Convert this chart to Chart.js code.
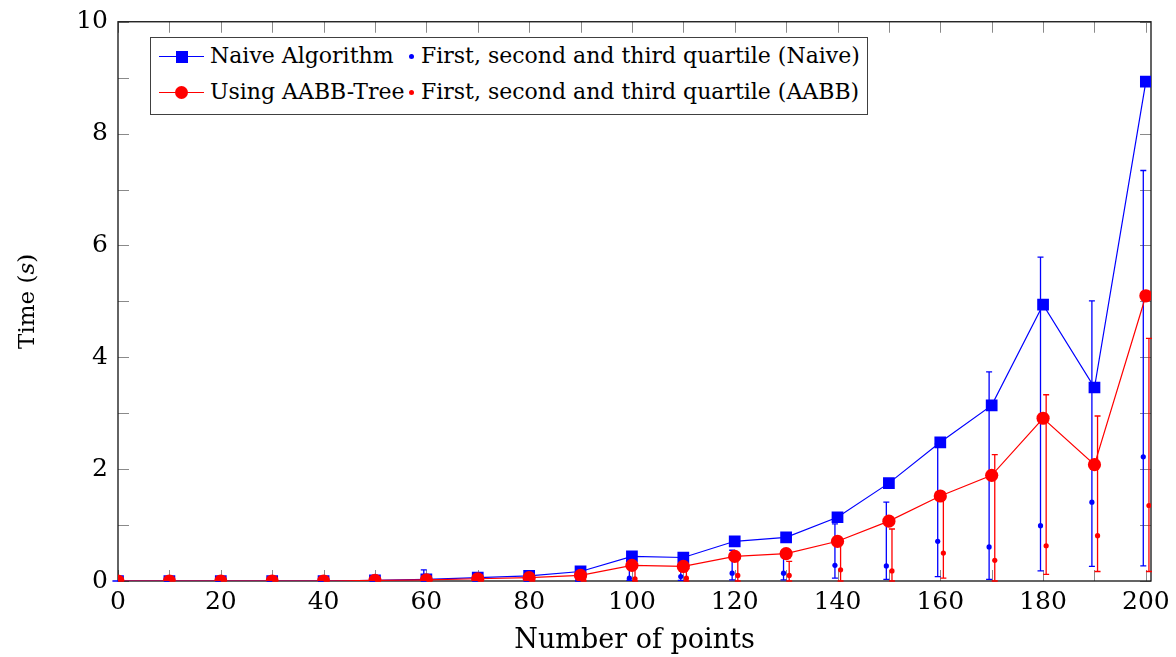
<!DOCTYPE html>
<html>
<head>
<meta charset="utf-8">
<script src="https://cdn.jsdelivr.net/npm/chart.js@4.4.0/dist/chart.umd.min.js"></script>
<style>
html,body{margin:0;padding:0;background:#fff;}
#wrap{position:relative;width:1176px;height:657px;}
#c{position:absolute;left:0;top:0;}
#legend{position:absolute;left:150px;top:37px;width:716px;height:76px;border:1px solid #404040;background:#fff;font-family:'DejaVu Serif';font-size:22px;color:#000;}
.item{position:absolute;height:30px;white-space:nowrap;}
.item span.t{position:absolute;top:0;line-height:30px;}
.ln{position:absolute;top:15px;height:0;border-top:1px solid;}
.mk{position:absolute;}
</style>
</head>
<body>
<div id="wrap">
<canvas id="c" width="1176" height="657"></canvas>
<div id="legend"></div>
</div>
<script>
// ---- data ----
const xValues = [0,10,20,30,40,50,60,70,80,90,100,110,120,130,140,150,160,170,180,190,200];
const naiveTime = [0,0,0,0,0,0.01,0.03,0.06,0.09,0.17,0.44,0.42,0.71,0.78,1.14,1.75,2.48,3.14,4.94,3.46,8.93];
const aabbTime  = [0,0,0,0,0,0.01,0.02,0.04,0.06,0.10,0.28,0.26,0.44,0.49,0.71,1.07,1.52,1.89,2.91,2.08,5.10];
const naiveQ1     = [0,0,0,0,0,0,0,0,0,0,0.01,0.01,0.02,0.02,0.05,0.03,0.08,0.03,0.18,0.26,0.27];
const naiveMedian = [0,0,0,0,0,0,0.01,0.01,0.02,0.03,0.05,0.08,0.14,0.14,0.28,0.27,0.71,0.61,0.99,1.41,2.22];
const naiveQ3     = [0,0,0,0,0,0.01,0.2,0.04,0.06,0.1,0.35,0.3,0.55,0.43,1.02,1.41,2.45,3.74,5.79,5.01,7.34];
const aabbQ1      = [0,0,0,0,0,0,0,0,0,0,0,0,0,0,0,0,0.05,0,0.12,0.17,0.17];
const aabbMedian  = [0,0,0,0,0,0,0.01,0.01,0.02,0.03,0.04,0.05,0.1,0.1,0.2,0.18,0.5,0.37,0.63,0.81,1.35];
const aabbQ3      = [0,0,0,0,0,0.01,0.02,0.03,0.05,0.08,0.25,0.22,0.4,0.35,0.68,0.93,1.5,2.26,3.33,2.95,4.34];
const xTickLabels = [0,20,40,60,80,100,120,140,160,180,200];
const yTickLabels = [0,2,4,6,8,10];
const seriesLabels = ['Naive Algorithm','First, second and third quartile (Naive)','Using AABB-Tree','First, second and third quartile (AABB)'];

const BLUE = '#0000ff', RED = '#ff0000';
const FONT = "'DejaVu Serif'";
const naiveOffset = -0.5, aabbOffset = 0.6;

const pts = (xs, ys, off=0) => xs.map((x,i)=>({x:x+off, y:ys[i]}));

const datasets = [
  {label:seriesLabels[0], data:pts(xValues,naiveTime), borderColor:BLUE, backgroundColor:BLUE,
   borderWidth:1.2, pointStyle:'rect', pointRadius:8.3, pointBorderWidth:0, order:4, tension:0},
  {label:seriesLabels[1], data:pts(xValues,naiveMedian,naiveOffset), showLine:false, borderColor:BLUE, backgroundColor:BLUE,
   pointStyle:'circle', pointRadius:2.6, pointBorderWidth:0, order:3, q1:naiveQ1, q3:naiveQ3, off:naiveOffset},
  {label:seriesLabels[2], data:pts(xValues,aabbTime), borderColor:RED, backgroundColor:RED,
   borderWidth:1.2, pointStyle:'circle', pointRadius:6.6, pointBorderWidth:0, order:2, tension:0},
  {label:seriesLabels[3], data:pts(xValues,aabbMedian,aabbOffset), showLine:false, borderColor:RED, backgroundColor:RED,
   pointStyle:'circle', pointRadius:2.6, pointBorderWidth:0, order:1, q1:aabbQ1, q3:aabbQ3, off:aabbOffset}
];

const errorBars = {
  id:'errorBars',
  afterDatasetDraw(chart, args){
    const ds = chart.data.datasets[args.index];
    if (!ds.q1) return;
    const {ctx, scales:{x, y}} = chart;
    ctx.save();
    ctx.strokeStyle = ds.borderColor;
    ctx.lineWidth = 1.3;
    xValues.forEach((xv,i)=>{
      const px = x.getPixelForValue(xv + ds.off);
      const p1 = y.getPixelForValue(ds.q1[i]);
      const p3 = y.getPixelForValue(ds.q3[i]);
      ctx.beginPath();
      ctx.moveTo(px,p1); ctx.lineTo(px,p3);
      ctx.moveTo(px-3,p1); ctx.lineTo(px+3,p1);
      ctx.moveTo(px-3,p3); ctx.lineTo(px+3,p3);
      ctx.stroke();
    });
    ctx.restore();
  }
};

const frame = {
  id:'frame',
  beforeDatasetsDraw(chart){
    const {ctx, chartArea:a, scales:{x, y}} = chart;
    const TL = 11;
    ctx.save();
    ctx.strokeStyle = '#8a8a8a';
    ctx.lineWidth = 1;
    ctx.beginPath();
    x.ticks.forEach(t=>{
      const px = Math.round(x.getPixelForValue(t.value))+0.5;
      ctx.moveTo(px,a.bottom); ctx.lineTo(px,a.bottom-TL);
      ctx.moveTo(px,a.top); ctx.lineTo(px,a.top+TL);
    });
    y.ticks.forEach(t=>{
      const py = Math.round(y.getPixelForValue(t.value))+0.5;
      ctx.moveTo(a.left,py); ctx.lineTo(a.left+TL,py);
      ctx.moveTo(a.right,py); ctx.lineTo(a.right-TL,py);
    });
    ctx.stroke();
    ctx.strokeStyle = '#111';
    ctx.lineWidth = 1.3;
    ctx.strokeRect(a.left, a.top, a.right-a.left, a.bottom-a.top);
    ctx.restore();
  }
};

new Chart(document.getElementById('c'), {
  type:'line',
  data:{datasets},
  options:{
    responsive:false, animation:false, devicePixelRatio:1,
    layout:{padding:{top:12,right:25,left:0,bottom:0}},
    plugins:{legend:{display:false}, tooltip:{enabled:false}},
    scales:{
      x:{type:'linear', min:0, max:201,
         grid:{display:false, drawTicks:false}, border:{display:false},
         afterFit(s){ s.height = 76; },
         afterBuildTicks(s){ s.ticks = xValues.map(v=>({value:v})); },
         ticks:{padding:6, color:'#000', font:{family:FONT, size:25}, maxRotation:0, autoSkip:false,
           callback:(v)=> xTickLabels.includes(v) ? String(v) : ''},
         title:{display:true, text:'Number of points', color:'#000', font:{family:FONT, size:27}, padding:{top:0,bottom:0}}
      },
      y:{type:'linear', min:0, max:10,
         grid:{display:false, drawTicks:false}, border:{display:false},
         afterFit(s){ s.width = 118; },
         afterBuildTicks(s){ const t=[]; for(let v=0; v<=10; v++) t.push({value:v}); s.ticks=t; },
         ticks:{padding:10, color:'#000', font:{family:FONT, size:25, lineHeight:0.94}, autoSkip:false,
           callback:(v)=> yTickLabels.includes(v) ? String(v) : ''},
         title:{display:true, text:'Time (𝑠)', color:'#000', font:{family:FONT, size:23}, padding:{top:14,bottom:0}}
      }
    }
  },
  plugins:[frame, errorBars]
});

// ---- HTML legend built from dataset settings ----
const legend = document.getElementById('legend');
const cols = [{sample:8, text:59}, {sample:255, text:270}];
const rows = [3, 39];
datasets.forEach((ds, i)=>{
  const col = cols[i%2], row = rows[Math.floor(i/2)];
  const it = document.createElement('div');
  it.className='item'; it.style.left='0px'; it.style.top=row+'px';
  if (!ds.q1) {
    const ln = document.createElement('div'); ln.className='ln';
    ln.style.left=col.sample+'px'; ln.style.width='45px'; ln.style.borderColor=ds.borderColor;
    it.appendChild(ln);
    const mk = document.createElement('div'); mk.className='mk';
    const s = ds.pointStyle==='rect' ? 12 : 13;
    mk.style.width=s+'px'; mk.style.height=s+'px'; mk.style.background=ds.backgroundColor;
    mk.style.left=(col.sample+22.5-s/2)+'px'; mk.style.top=(15.5-s/2)+'px';
    if (ds.pointStyle==='circle') mk.style.borderRadius='50%';
    it.appendChild(mk);
  } else {
    const mk = document.createElement('div'); mk.className='mk';
    mk.style.width='5px'; mk.style.height='5px'; mk.style.borderRadius='50%'; mk.style.background=ds.backgroundColor;
    mk.style.left=(col.sample+3)+'px'; mk.style.top='13px';
    it.appendChild(mk);
  }
  const t = document.createElement('span'); t.className='t'; t.textContent=ds.label; t.style.left=col.text+'px';
  it.appendChild(t);
  legend.appendChild(it);
});
</script>
</body>
</html>
